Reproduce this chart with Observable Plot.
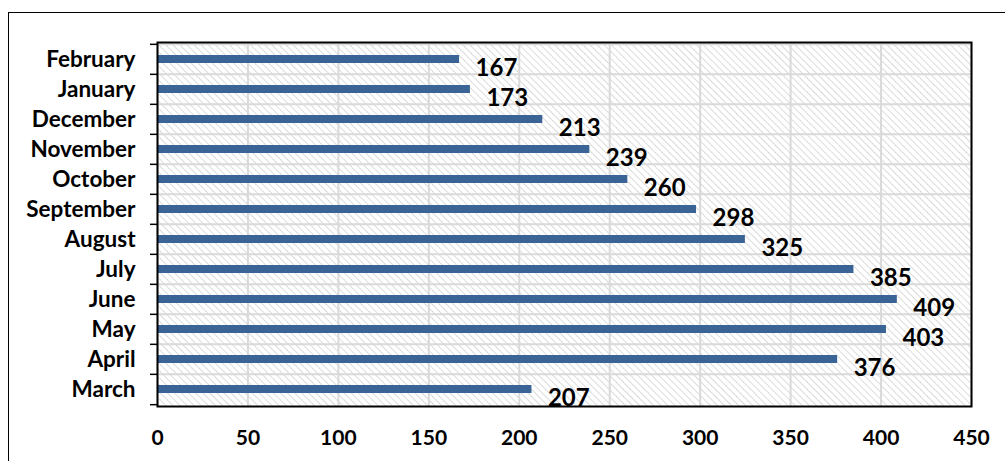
<!DOCTYPE html>
<html>
<head>
<meta charset="utf-8">
<script src="https://cdn.jsdelivr.net/npm/d3@7"></script>
<script src="https://cdn.jsdelivr.net/npm/@observablehq/plot@0.6"></script>
<style>
  html, body { margin: 0; padding: 0; background: #fff; }
  #wrap { position: relative; width: 1005px; height: 461px; overflow: hidden; }
  #border { position: absolute; left: 8px; top: 12px; width: 1010px; height: 470px; border: 1.6px solid #000; box-sizing: border-box; }
  #chart { position: absolute; left: 0; top: 0; }
</style>
</head>
<body>
<div id="wrap">
  <div id="border"></div>
  <div id="chart"></div>
</div>
<script>
// Categories, top to bottom as shown
const months = ["February", "January", "December", "November", "October", "September", "August", "July", "June", "May", "April", "March"];
const values = [167, 173, 213, 239, 260, 298, 325, 385, 409, 403, 376, 207];
const xTicks = [0, 50, 100, 150, 200, 250, 300, 350, 400, 450];

const data = months.map((m, i) => ({month: m, value: values[i]}));

const W = 1005, H = 461;
const mTop = 42, mBottom = 55, mLeft = 157, mRight = 34;
const step = (H - mTop - mBottom) / months.length;
const half = step / 2;

const font = "Lato, 'Open Sans', sans-serif";

const svg = Plot.plot({
  width: W,
  height: H,
  marginTop: mTop,
  marginBottom: mBottom,
  marginLeft: mLeft,
  marginRight: mRight,
  style: {fontFamily: font, fontWeight: "bold", color: "#000", background: "transparent", overflow: "visible"},
  x: {domain: [0, 450], ticks: xTicks},
  y: {type: "band", domain: months, padding: 0},
  marks: [
    Plot.frame({fill: "url(#hatch)", stroke: null}),
    Plot.gridX({ticks: xTicks, stroke: "#d9d9d9", strokeOpacity: 1, strokeWidth: 2}),
    Plot.gridY({dy: -half, stroke: "#d9d9d9", strokeOpacity: 1, strokeWidth: 2}),
    Plot.barX(data, {x: "value", y: "month", fill: "#3b6496", insetTop: 11, insetBottom: 11}),
    Plot.text(data, {x: "value", y: "month", text: d => String(d.value), textAnchor: "start", dx: 16, dy: 9, fontSize: 24, fontWeight: "bold", fill: "#000"}),
    Plot.frame({stroke: "#000", strokeWidth: 2}),
    Plot.axisX({ticks: xTicks, tickSize: 0, tickPadding: 24, fontSize: 21, fontWeight: "bold", label: null}),
    Plot.axisY({tickSize: 0, tickPadding: 22, fontSize: 22.5, fontWeight: "bold", label: null}),
    Plot.axisY({tickSize: 7, dy: -half, tickFormat: () => "", stroke: "#000", strokeWidth: 1.5, label: null}),
    Plot.axisY([months[months.length - 1]], {tickSize: 7, dy: half, tickFormat: () => "", stroke: "#000", strokeWidth: 1.5, label: null})
  ]
});

const defs = d3.select(svg).insert("defs", ":first-child");
const pat = defs.append("pattern")
  .attr("id", "hatch")
  .attr("patternUnits", "userSpaceOnUse")
  .attr("width", 5)
  .attr("height", 5)
  .attr("patternTransform", "rotate(-45)");
pat.append("rect").attr("width", 5).attr("height", 5).attr("fill", "#ffffff");
pat.append("line").attr("x1", 0).attr("y1", 0).attr("x2", 0).attr("y2", 5)
  .attr("stroke", "#cccccc").attr("stroke-width", 2).attr("stroke-dasharray", "1.5 0.8");

document.getElementById("chart").appendChild(svg);
</script>
</body>
</html>
